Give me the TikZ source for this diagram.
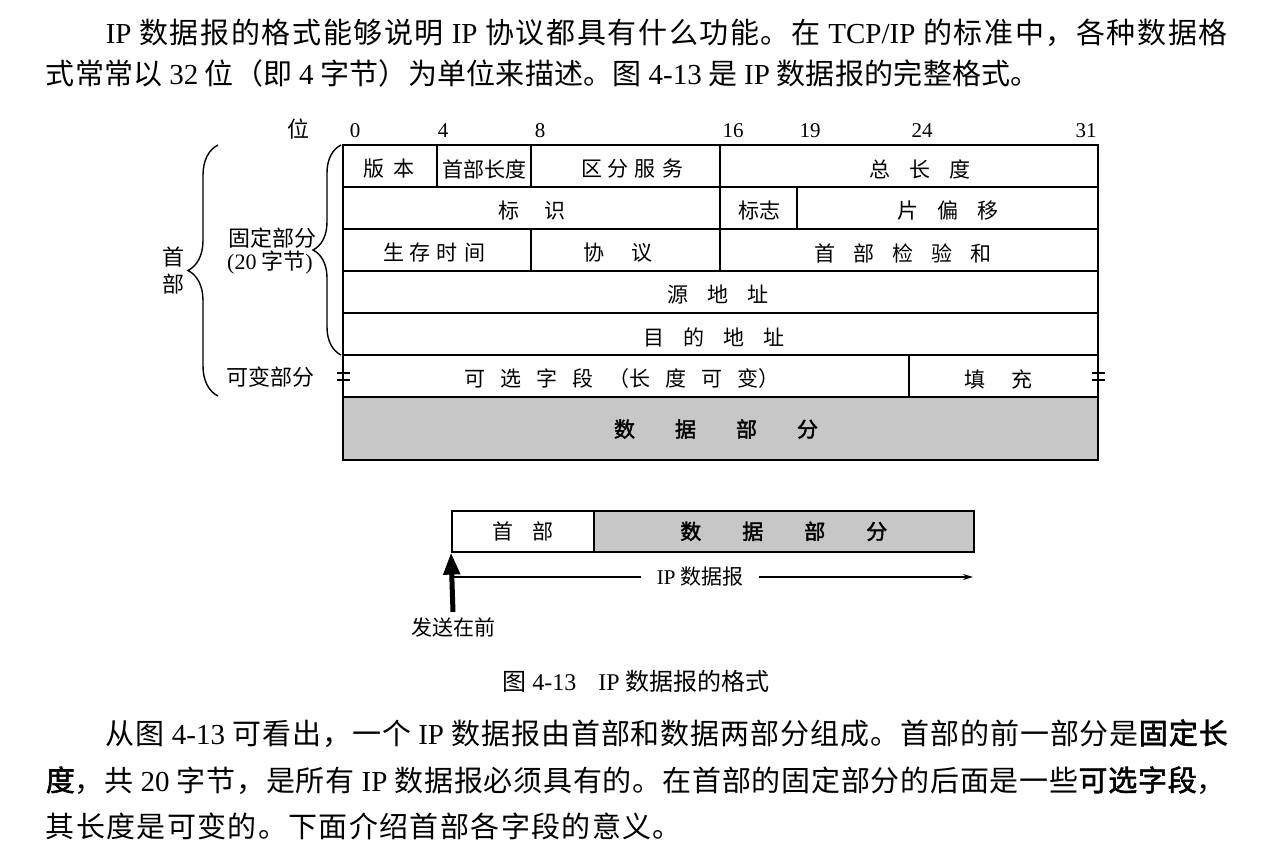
\documentclass[tikz,border=0pt]{standalone}
\usepackage{fontspec}
\setmainfont{Noto Sans CJK SC}
\newfontfamily\lat{Liberation Serif}
\newfontfamily\cjkbf[FakeBold=2]{Noto Sans CJK SC}
\usetikzlibrary{decorations.pathreplacing,arrows.meta}
% stretchable glue between ideographs so that justified lines spread evenly
\newXeTeXintercharclass\hanclass
\count255="3000
\loop
  \XeTeXcharclass\count255=\hanclass
  \ifnum\count255<"9FFF \advance\count255 by 1 \repeat
\count255="FF00
\loop
  \XeTeXcharclass\count255=\hanclass
  \ifnum\count255<"FFEF \advance\count255 by 1 \repeat
\XeTeXinterchartoks\hanclass\hanclass={\hskip 0pt plus 4pt\relax}
\XeTeXinterchartokenstate=1
\newcommand\fgap[1]{\hspace{#1pt}}
\newcommand\bodysize{\fontsize{29}{34}\selectfont}
\newcommand\tabsize{\fontsize{21}{25}\selectfont}
\newcommand\sidesize{\fontsize{22}{26}\selectfont}
\newcommand\bitsize{\fontsize{21}{24}\selectfont}
\newcommand\capsize{\fontsize{24}{28}\selectfont}
\tikzset{
  para/.style={anchor=base west, inner sep=0pt, font=\bodysize},
  field/.style={inner sep=0pt, font=\tabsize},
  bitno/.style={inner sep=0pt, font=\lat\bitsize},
  side/.style={inner sep=0pt, font=\sidesize},
  grid line/.style={line width=1.6pt},
  payload/.style={fill=black!22},
  curly/.style={decorate, decoration={brace, amplitude=#1}, line width=1.4pt},
}
\begin{document}
\begin{tikzpicture}[x=1pt,y=-1pt,line width=1.6pt]
\useasboundingbox (0,0) rectangle (1283,848);

% ---- opening paragraph ----
\node[para] (top1) at (105,44) {\hbox to 1122pt{{\lat IP} 数据报的格式能够说明 {\lat IP} 协议都具有什么功能。在 {\lat TCP/IP} 的标准中，各种数据格}};
\node[para] (top2) at (45,85) {\hbox to 994pt{式常常以 {\lat 32} 位（即 {\lat 4} 字节）为单位来描述。图 {\lat 4-13} 是 {\lat IP} 数据报的完整格式。}};

% ---- bit positions ----
\node[side] (bitword) at (298,129) {位};
\node[bitno] (b0) at (355,131) {0};
\node[bitno] (b4) at (443,131) {4};
\node[bitno] (b8) at (540,131) {8};
\node[bitno] (b16) at (733,131) {16};
\node[bitno] (b19) at (810,131) {19};
\node[bitno] (b24) at (922,131) {24};
\node[bitno] (b31) at (1086,131) {31};

% ---- header table ----
\fill[payload] (343,397) rectangle (1098,460);
\draw[grid line] (343,145) rectangle (1098,460);
\draw[grid line] (343,187) -- (1098,187) (343,229) -- (1098,229)
  (343,271) -- (1098,271) (343,313) -- (1098,313)
  (343,355) -- (1098,355) (343,397) -- (1098,397);
\draw[grid line] (437,145) -- (437,187) (531,145) -- (531,187)
  (720,145) -- (720,271) (797,187) -- (797,229)
  (531,229) -- (531,271) (909,355) -- (909,397);

\node[field] (ver) at (389,169) {版\fgap{9}本};
\node[field] (ihl) at (484,169) {首部长度};
\node[field] (ds) at (632,169) {区\fgap{6}分\fgap{6}服\fgap{6}务};
\node[field] (tlen) at (920,169) {总\fgap{19}长\fgap{19}度};
\node[field] (ident) at (532,211) {标\fgap{25}识};
\node[field] (flags) at (759,211) {标志};
\node[field] (frag) at (948,211) {片\fgap{19}偏\fgap{19}移};
\node[field] (ttl) at (434,253) {生\fgap{6}存\fgap{6}时\fgap{6}间};
\node[field] (proto) at (618,253) {协\fgap{27}议};
\node[field] (csum) at (903,253) {首\fgap{18}部\fgap{18}检\fgap{18}验\fgap{18}和};
\node[field] (src) at (718,295) {源\fgap{19}地\fgap{19}址};
\node[field] (dst) at (714,337) {目\fgap{19}的\fgap{19}地\fgap{19}址};
\node[field] (opt) at (622,379) {可\fgap{15}选\fgap{15}字\fgap{15}段\fgap{15}（长\fgap{15}度\fgap{15}可\fgap{15}变）};
\node[field] (pad) at (998,379) {填\fgap{26}充};
\node[field] (data) at (716,429) {\cjkbf 数\fgap{40}据\fgap{40}部\fgap{40}分};

% variable-length marks on both borders
\draw[line width=2pt] (337,373) -- (350,373) (337,380) -- (350,380)
  (1092,373) -- (1105,373) (1092,380) -- (1105,380);

% ---- braces and side labels ----
\draw[curly=28pt] (341,355) -- (341,145);
\draw[curly=30pt] (218,396) -- (218,145);
\node[side] (fixed) at (272,238) {固定部分};
\node[side] (fixedlen) at (270,263) {{\lat (20} 字节{\lat )}};
\node[side] (hdr1) at (173,257) {首};
\node[side] (hdr2) at (173,284) {部};
\node[side] (varpart) at (270,377) {可变部分};

% ---- datagram overview ----
\node[draw, grid line, anchor=north west, minimum width=142pt, minimum height=41pt,
  inner sep=0pt, font=\tabsize] (hdr) at (451,510) {首\fgap{19}部};
\node[draw, grid line, payload, anchor=north west, minimum width=380pt, minimum height=41pt,
  inner sep=0pt, font=\tabsize] (pay) at (593,510) {\cjkbf 数\fgap{41}据\fgap{41}部\fgap{41}分};
\coordinate (spanL) at (453,577);
\coordinate (spanR) at (973,577);
\draw[line width=1.2pt, -{Stealth[length=10pt,width=6pt]}] (spanL) --
  node[pos=0.475, fill=white, inner xsep=16pt, inner ysep=2pt, font=\tabsize] (dglabel) {{\lat IP} 数据报} (spanR);
\coordinate (sendfoot) at (453,612);
\draw[line width=5pt, -{Triangle[length=22pt,width=16pt]}] (sendfoot) -- (hdr.south west);
\node[field] (send) at (453,627) {发送在前};

% ---- caption ----
\node[inner sep=0pt, font=\capsize] (cap) at (636,681) {图 {\lat 4-13}\fgap{22}{\lat IP} 数据报的格式};

% ---- following paragraph ----
\node[para] (bot1) at (105,744) {\hbox to 1122pt{从图 {\lat 4-13} 可看出，一个 {\lat IP} 数据报由首部和数据两部分组成。首部的前一部分是{\cjkbf 固定长}}};
\node[para] (bot2) at (45,791) {\hbox to 1180pt{{\cjkbf 度}，共 {\lat 20} 字节，是所有 {\lat IP} 数据报必须具有的。在首部的固定部分的后面是一些{\cjkbf 可选字段}，}};
\node[para] (bot3) at (45,837) {\hbox to 636pt{其长度是可变的。下面介绍首部各字段的意义。}};
\end{tikzpicture}
\end{document}
